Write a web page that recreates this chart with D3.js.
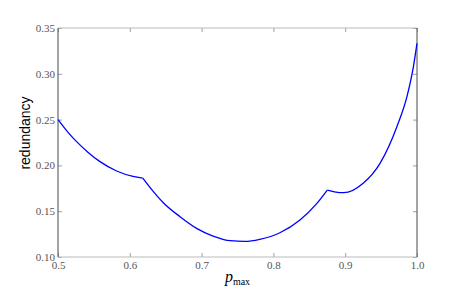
<!DOCTYPE html>
<html>
<head>
<meta charset="utf-8">
<script src="https://cdn.jsdelivr.net/npm/d3@7"></script>
<style>
  html, body { margin: 0; padding: 0; background: #fff; }
  svg { display: block; }
</style>
</head>
<body>
<svg id="vis-svg"></svg>
<script>
// values
const pMax = [0.500, 0.514, 0.528, 0.542, 0.5585, 0.5817, 0.6045, 0.618, 0.632, 0.647, 0.670, 0.693, 0.716, 0.740, 0.760, 0.781, 0.809, 0.837, 0.860, 0.875, 0.885, 0.898, 0.925, 0.9485, 0.972, 0.986, 0.995, 1.000];
const redundancy = [0.2500, 0.2361, 0.2243, 0.2142, 0.2041, 0.1939, 0.1880, 0.1862, 0.1722, 0.1590, 0.1440, 0.1313, 0.1229, 0.1178, 0.1171, 0.1193, 0.1265, 0.1405, 0.1580, 0.1731, 0.1712, 0.1702, 0.1805, 0.2023, 0.2423, 0.2750, 0.3078, 0.3333];
// where the curve has corners
const kinks = [0.618, 0.875];
const xTicks = [0.5, 0.6, 0.7, 0.8, 0.9, 1.0];
const yTicks = [0.10, 0.15, 0.20, 0.25, 0.30, 0.35];

const width = 463, height = 286;
const plotLeft = 58, plotRight = 417, plotTop = 28, plotBottom = 257;

let svg = d3.select("#vis-svg")
    .attr("width", width)
    .attr("height", height);

let xScale = d3.scaleLinear().domain([0.5, 1.0]).range([plotLeft, plotRight]);
let yScale = d3.scaleLinear().domain([0.10, 0.35]).range([plotBottom, plotTop]);

// inward ticks on all four sides
let tickLen = 4;
let tickColor = "#888";
let tickFont = "'Liberation Serif', 'DejaVu Serif', serif";

let xAxis = d3.axisBottom(xScale).tickValues(xTicks).tickSize(-tickLen).tickFormat(d3.format(".1f"));
let yAxis = d3.axisLeft(yScale).tickValues(yTicks).tickSize(-tickLen).tickFormat(d3.format(".2f"));
let xTop = d3.axisTop(xScale).tickValues(xTicks).tickSize(-tickLen).tickFormat("");
let yRight = d3.axisRight(yScale).tickValues(yTicks).tickSize(-tickLen).tickFormat("");

function styleAxis(g) {
    g.select(".domain").remove();
    g.selectAll(".tick line").attr("stroke", tickColor).attr("stroke-width", 0.8);
    g.selectAll(".tick text")
        .attr("font-family", tickFont)
        .attr("font-size", 11)
        .attr("fill", "#555");
}

svg.append("g").attr("class", "xAxis")
    .attr("transform", `translate(0, ${plotBottom})`)
    .call(xAxis).call(styleAxis)
    .selectAll(".tick text").attr("dy", null).attr("y", 12);

svg.append("g").attr("class", "yAxis")
    .attr("transform", `translate(${plotLeft}, 0)`)
    .call(yAxis).call(styleAxis)
    .selectAll(".tick text").attr("x", -3).attr("dy", "0.32em");

svg.append("g").attr("transform", `translate(0, ${plotTop})`).call(xTop).call(styleAxis);
svg.append("g").attr("transform", `translate(${plotRight}, 0)`).call(yRight).call(styleAxis);

// frame: left/right darker, top/bottom lighter
svg.append("line").attr("x1", plotLeft).attr("x2", plotRight).attr("y1", plotTop).attr("y2", plotTop)
    .attr("stroke", "#bbb").attr("stroke-width", 1);
svg.append("line").attr("x1", plotLeft).attr("x2", plotRight).attr("y1", plotBottom).attr("y2", plotBottom)
    .attr("stroke", "#bbb").attr("stroke-width", 1);
svg.append("line").attr("x1", plotLeft).attr("x2", plotLeft).attr("y1", plotTop).attr("y2", plotBottom)
    .attr("stroke", "#666").attr("stroke-width", 1.2);
svg.append("line").attr("x1", plotRight).attr("x2", plotRight).attr("y1", plotTop).attr("y2", plotBottom)
    .attr("stroke", "#666").attr("stroke-width", 1.2);

// curve, split at the corners so each piece is smooth on its own
let points = pMax.map((p, i) => ({p: p, r: redundancy[i]}));
let bounds = [0.5].concat(kinks, [1.0]);
let pieces = d3.pairs(bounds).map(([a, b]) => points.filter(d => d.p >= a && d.p <= b));

let line = d3.line()
    .x(d => xScale(d.p))
    .y(d => yScale(d.r))
    .curve(d3.curveMonotoneX);

svg.selectAll("path.curve")
    .data(pieces)
    .enter()
        .append("path")
        .attr("class", "curve")
        .attr("d", line)
        .attr("fill", "none")
        .attr("stroke", "#0000ff")
        .attr("stroke-width", 1.3)
        .attr("stroke-linejoin", "round");

// axis labels
let xLabel = svg.append("text")
    .attr("x", (plotLeft + plotRight) / 2)
    .attr("y", 282)
    .attr("text-anchor", "middle")
    .attr("font-family", tickFont)
    .attr("fill", "#000");
xLabel.append("tspan").attr("font-style", "italic").attr("font-size", 16).text("p");
xLabel.append("tspan").attr("font-size", 10).attr("dy", 3).text("max");

svg.append("text")
    .attr("transform", `translate(30, 133) rotate(-90)`)
    .attr("text-anchor", "middle")
    .attr("font-family", "'Liberation Sans', Arial, sans-serif")
    .attr("font-size", 14)
    .attr("fill", "#000")
    .text("redundancy");
</script>
</body>
</html>
